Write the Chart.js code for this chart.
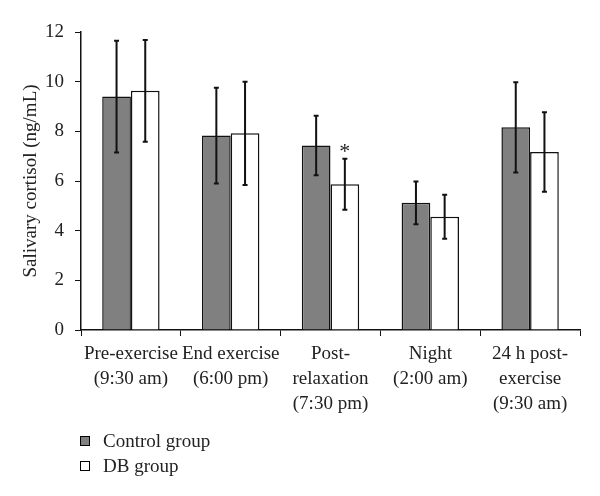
<!DOCTYPE html>
<html>
<head>
<meta charset="utf-8">
<script src="https://cdn.jsdelivr.net/npm/chart.js@4/dist/chart.umd.min.js"></script>
<style>
  body { margin: 0; background: #fff; }
  #wrap { position: relative; width: 600px; height: 496px; }
  #legend { position: absolute; left: 80px; top: 428px; font-family: 'Liberation Serif', serif; font-size: 19px; color: #222; }
  .item { display: flex; align-items: center; height: 25px; }
  .swatch { width: 8px; height: 8px; border: 1px solid #000; margin-right: 13px; }
</style>
</head>
<body>
<div id="wrap">
  <canvas id="chart" width="600" height="496"></canvas>
  <div id="legend"></div>
</div>
<script>
const categories = [
  ['Pre-exercise', '(9:30 am)'],
  ['End exercise', '(6:00 pm)'],
  ['Post-', 'relaxation', '(7:30 pm)'],
  ['Night', '(2:00 am)'],
  ['24 h post-', 'exercise', '(9:30 am)']
];
const controlMeans = [9.4, 7.83, 7.43, 5.12, 8.16];
const controlSD = [2.25, 1.93, 1.2, 0.86, 1.82];
const dbMeans = [9.63, 7.92, 5.87, 4.56, 7.17];
const dbSD = [2.05, 2.08, 1.03, 0.89, 1.6];
const dbMarks = ['', '', '*', '', ''];

const font = 'Liberation Serif';

const errorBars = {
  id: 'errorBars',
  afterDatasetsDraw(chart) {
    const ctx = chart.ctx;
    const y = chart.scales.y;
    const sds = [controlSD, dbSD];
    ctx.save();
    ctx.strokeStyle = '#111';
    ctx.lineWidth = 2;
    chart.data.datasets.forEach((ds, di) => {
      chart.getDatasetMeta(di).data.forEach((bar, i) => {
        const top = y.getPixelForValue(ds.data[i] + sds[di][i]);
        const bot = y.getPixelForValue(ds.data[i] - sds[di][i]);
        ctx.beginPath();
        ctx.moveTo(bar.x, top); ctx.lineTo(bar.x, bot);
        ctx.moveTo(bar.x - 2.5, top); ctx.lineTo(bar.x + 2.5, top);
        ctx.moveTo(bar.x - 2.5, bot); ctx.lineTo(bar.x + 2.5, bot);
        ctx.stroke();
        if (di === 1 && dbMarks[i]) {
          ctx.fillStyle = '#222';
          ctx.font = '22px ' + font;
          ctx.textAlign = 'center';
          ctx.fillText(dbMarks[i], bar.x, top - 1);
        }
      });
    });
    ctx.restore();
  }
};

const chart = new Chart(document.getElementById('chart'), {
  type: 'bar',
  data: {
    labels: categories,
    datasets: [
      {
        label: 'Control group',
        data: controlMeans,
        backgroundColor: '#808080',
        borderColor: '#111',
        borderWidth: 1.5,
        categoryPercentage: 0.575,
        barPercentage: 1.0
      },
      {
        label: 'DB group',
        data: dbMeans,
        backgroundColor: '#ffffff',
        borderColor: '#111',
        borderWidth: 1.5,
        categoryPercentage: 0.575,
        barPercentage: 1.0
      }
    ]
  },
  options: {
    responsive: false,
    animation: false,
    layout: { padding: { top: 32, right: 20, left: 20, bottom: 0 } },
    plugins: { legend: { display: false }, tooltip: { enabled: false } },
    scales: {
      x: {
        grid: { drawOnChartArea: false, color: '#111', tickLength: 6, offset: true },
        border: { color: '#111', width: 1.5 },
        ticks: { color: '#222', padding: 5, maxRotation: 0, autoSkip: false, font: { family: font, size: 19, lineHeight: 1.33 } },
        afterFit(scale) { scale.height = 166; }
      },
      y: {
        min: 0,
        max: 12,
        grid: { drawOnChartArea: false, color: '#111', tickLength: 6 },
        border: { color: '#111', width: 1.5 },
        ticks: { stepSize: 2, color: '#222', padding: 11, font: { family: font, size: 19 } },
        title: { display: true, text: 'Salivary cortisol (ng/mL)', color: '#222', padding: { top: 0, bottom: 4 }, font: { family: font, size: 19 } },
        afterFit(scale) { scale.width = 61; }
      }
    }
  },
  plugins: [errorBars]
});

const legend = document.getElementById('legend');
chart.data.datasets.forEach(ds => {
  legend.innerHTML += `<div class="item"><span class="swatch" style="background:${ds.backgroundColor}"></span>${ds.label}</div>`;
});
</script>
</body>
</html>
